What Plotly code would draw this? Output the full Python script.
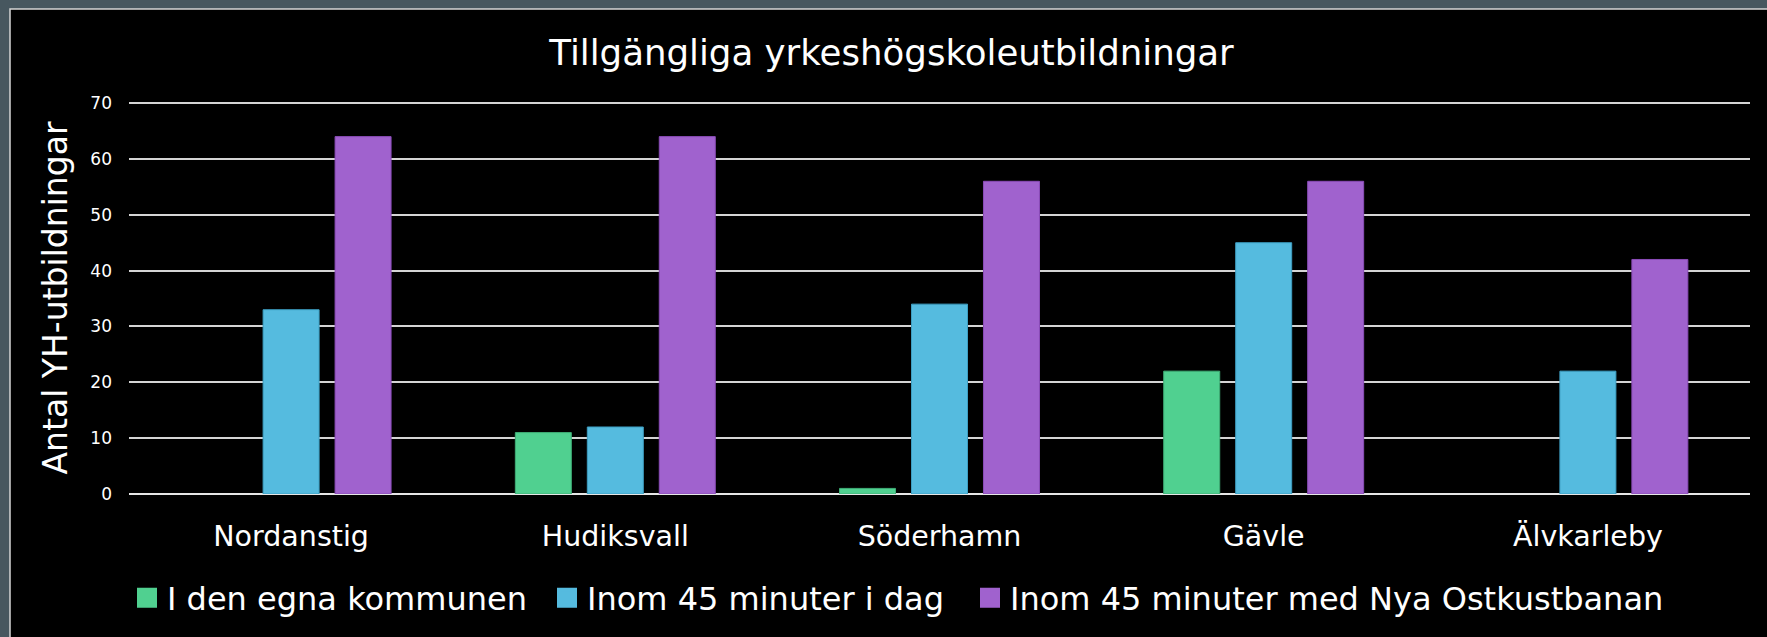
import plotly.graph_objects as go

categories = ["Nordanstig", "Hudiksvall", "Söderhamn", "Gävle", "Älvkarleby"]
series_names = ["I den egna kommunen", "Inom 45 minuter i dag", "Inom 45 minuter med Nya Ostkustbanan"]
egna = [0, 11, 1, 22, 0]
idag = [33, 12, 34, 45, 22]
nya = [64, 64, 56, 56, 42]
y_ticks = [0, 10, 20, 30, 40, 50, 60, 70]

fills = ["#50d090", "#55bbdf", "#a062ce"]
lines = ["#3fae76", "#3d9ec2", "#8a4cb8"]
FONT = "DejaVu Sans"

W, H = 1767, 637
ML, MR, MT, MB = 129, 17, 102, 143
PW, PH = W - ML - MR, H - MT - MB
YMAX = 70.2

def px_x(px):
    return (px - ML) / PW

def px_y(py):
    return (H - MB - py) / PH

legend_ids = ["legend", "legend2", "legend3"]
legend_px = [127, 547, 970]

fig = go.Figure()
for name, vals, fc, lc in zip(series_names, [egna, idag, nya], fills, lines):
    fig.add_trace(go.Bar(x=categories, y=vals, name=name, showlegend=False,
                         marker=dict(color=fc,
                                     line=dict(color=lc, width=[0 if v == 0 else 1 for v in vals]))))
for name, fc, lid in zip(series_names, fills, legend_ids):
    fig.add_trace(go.Scatter(x=[None], y=[None], mode="markers", name=name, legend=lid,
                             marker=dict(symbol="square", size=16, color=fc,
                                         line=dict(color=fc, width=4))))

fig.add_shape(type="rect", xref="paper", yref="paper",
              x0=px_x(10), x1=px_x(W + 10), y0=px_y(H + 10), y1=px_y(9),
              fillcolor="black", line=dict(color="#d6d6d6", width=1.5), layer="below")

legend_common = dict(orientation="h", xanchor="left", y=px_y(598), yanchor="middle",
                     font=dict(family=FONT, size=32, color="white"),
                     bgcolor="rgba(0,0,0,0)")

fig.update_layout(
    width=W, height=H,
    margin=dict(l=ML, r=MR, t=MT, b=MB, pad=0),
    paper_bgcolor="#47575f",
    plot_bgcolor="black",
    barmode="group", bargap=0.334, bargroupgap=0.222,
    font=dict(family=FONT, color="white"),
    title=dict(text="Tillgängliga yrkeshögskoleutbildningar",
               font=dict(family=FONT, size=35.6, color="white"),
               x=891.5 / W, xanchor="center", y=1 - 53 / H, yanchor="middle"),
    legend=dict(x=px_x(legend_px[0]), **legend_common),
    legend2=dict(x=px_x(legend_px[1]), **legend_common),
    legend3=dict(x=px_x(legend_px[2]), **legend_common),
    xaxis=dict(showgrid=False, zeroline=False, showline=False, ticks="",
               tickfont=dict(family=FONT, size=28.5, color="white"),
               ticklabelstandoff=22),
    yaxis=dict(range=[0, YMAX], tickvals=y_ticks, showgrid=True,
               gridcolor="#d4d4d4", gridwidth=1.5,
               zeroline=True, zerolinecolor="#e6e6e6", zerolinewidth=2,
               showline=False, ticks="",
               tickfont=dict(family=FONT, size=17, color="white"),
               ticklabelstandoff=16,
               title=dict(text="Antal YH-utbildningar",
                          font=dict(family=FONT, size=33, color="white"),
                          standoff=12)),
)

fig.write_html("out.html", config={"displayModeBar": False},
               post_script="document.body.style.margin='0';document.body.style.overflow='hidden';")
